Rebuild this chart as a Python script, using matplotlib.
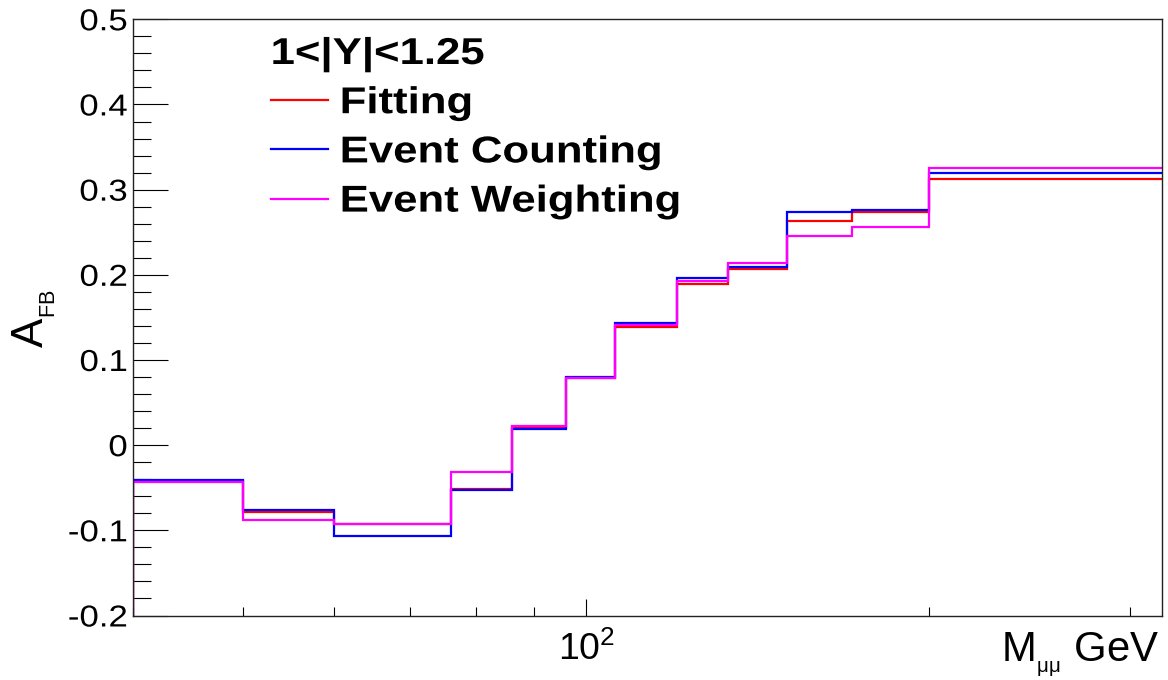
import matplotlib
matplotlib.use("Agg")
import matplotlib.pyplot as plt
from matplotlib import patheffects
from matplotlib.transforms import Affine2D
from matplotlib.ticker import (FixedLocator, FixedFormatter, LogLocator,
                               MultipleLocator, NullFormatter,
                               LogFormatterSciNotation)

plt.rcParams["font.family"] = ["Liberation Sans", "DejaVu Sans"]
plt.rcParams["mathtext.fontset"] = "custom"
plt.rcParams["mathtext.rm"] = "Liberation Sans"
plt.rcParams["mathtext.it"] = "Liberation Sans:italic"
plt.rcParams["mathtext.bf"] = "Liberation Sans:bold"
plt.rcParams["mathtext.default"] = "regular"
plt.rcParams["axes.unicode_minus"] = False

# Dimuon mass bin edges (GeV) and forward-backward asymmetry per bin
mass_edges = [40, 50, 60, 76, 86, 96, 106, 120, 133, 150, 171, 200, 320]
afb_fitting = [-0.042, -0.078, -0.093, -0.051, 0.021, 0.079,
               0.139, 0.189, 0.207, 0.263, 0.274, 0.312]
afb_counting = [-0.041, -0.076, -0.107, -0.053, 0.019, 0.080,
                0.143, 0.196, 0.209, 0.274, 0.276, 0.320]
afb_weighting = [-0.043, -0.088, -0.093, -0.032, 0.023, 0.079,
                 0.141, 0.193, 0.214, 0.246, 0.256, 0.325]

series_names = ["Fitting", "Event Counting", "Event Weighting"]
series_colors = ["#ff0000", "#0000ff", "#ff00ff"]
legend_header = "1<|Y|<1.25"

y_range = [-0.2, 0.5]
ytick_values = [-0.2, -0.1, 0.0, 0.1, 0.2, 0.3, 0.4, 0.5]
ytick_labels = ["-0.2", "-0.1", "0", "0.1", "0.2", "0.3", "0.4", "0.5"]


class Stretch(patheffects.AbstractPathEffect):
    """Widen glyph outlines horizontally about one ink edge."""

    def __init__(self, factor, anchor="left"):
        super().__init__()
        self._factor = factor
        self._anchor = anchor

    def draw_path(self, renderer, gc, tpath, affine, rgbFace=None):
        ext = tpath.get_extents(affine)
        x0 = ext.x1 if self._anchor == "right" else ext.x0
        extra = (Affine2D().translate(-x0, 0)
                 .scale(self._factor, 1.0).translate(x0, 0))
        renderer.draw_path(gc, tpath, affine + extra, rgbFace)


fig = plt.figure(figsize=(11.68, 6.8), dpi=100)
ax = fig.add_axes([0.11387, 0.09485, 0.88099, 0.87677])

handles = []
for vals, name, col in zip([afb_fitting, afb_counting, afb_weighting],
                           series_names, series_colors):
    xs = [mass_edges[0]] + list(mass_edges)
    ys = [y_range[0]] + list(vals) + [vals[-1]]
    (ln,) = ax.step(xs, ys, where="post", color=col, lw=1.6,
                    label=name, solid_joinstyle="miter")
    handles.append(ln)

ax.set_xscale("log")
ax.set_xlim(mass_edges[0], mass_edges[-1])
ax.set_ylim(*y_range)

ax.xaxis.set_major_locator(LogLocator(base=10))
ax.xaxis.set_major_formatter(LogFormatterSciNotation())
ax.xaxis.set_minor_locator(LogLocator(base=10, subs=range(2, 10)))
ax.xaxis.set_minor_formatter(NullFormatter())

ax.yaxis.set_major_locator(FixedLocator(ytick_values))
ax.yaxis.set_major_formatter(FixedFormatter(ytick_labels))
ax.yaxis.set_minor_locator(MultipleLocator(0.02))

ax.tick_params(axis="y", which="major", direction="in", length=25,
               width=0.8, labelsize=21.8, pad=4, right=False)
ax.tick_params(axis="y", which="minor", direction="in", length=13,
               width=0.8, right=False)
ax.tick_params(axis="x", which="major", direction="in", length=12,
               width=0.8, labelsize=26.9, pad=12, top=False)
ax.tick_params(axis="x", which="minor", direction="in", length=6.3,
               width=0.8, top=False)

for lbl in ax.get_yticklabels():
    lbl.set_path_effects([Stretch(1.15, anchor="right")])

for sp in ax.spines.values():
    sp.set_linewidth(1.0)
    sp.set_color("#222222")

ax.set_xlabel(r"$\mathregular{M_{{}_{μμ}}}$ GeV", fontsize=30.2,
              ha="right", va="baseline")
ax.xaxis.set_label_coords(0.9974, -0.0775)

ax.set_ylabel(r"$\mathregular{A_{{}_{FB}}}$", fontsize=31.7,
              va="baseline", ha="center")
ax.yaxis.set_label_coords(-0.0872, 0.498)

leg = ax.legend(handles=handles, labels=series_names, title=legend_header,
                loc="upper left", bbox_to_anchor=(0.1341, 0.9703),
                frameon=False, borderpad=0, borderaxespad=0,
                handlelength=1.52, handletextpad=0.33, labelspacing=0.38,
                alignment="left",
                prop={"family": "Liberation Sans", "weight": "bold",
                      "size": 26.9},
                title_fontproperties={"family": "Liberation Sans",
                                      "weight": "bold", "size": 26.9})
for t in leg.get_texts() + [leg.get_title()]:
    t.set_path_effects([Stretch(1.17)])

fig.savefig("out.png", dpi=100, facecolor="white")
